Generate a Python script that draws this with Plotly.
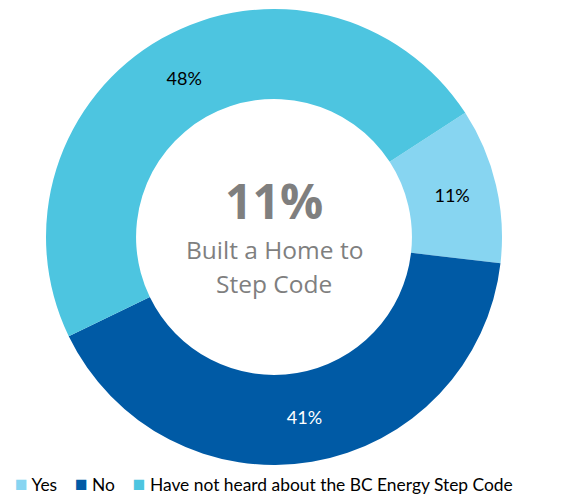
import plotly.graph_objects as go

labels = ["Yes", "No", "Have not heard about the BC Energy Step Code"]
values = [11, 41, 48]
colors = ["#87D5F1", "#005AA5", "#4DC5E0"]
text_colors = ["#000000", "#FFFFFF", "#000000"]

center_value = "11%"
center_lines = ["Built a Home to", "Step Code"]

W, H = 587, 495
cx, cy, R = 274, 237, 228   # donut centre / radius in px from the top-left

fig = go.Figure()
fig.add_trace(go.Pie(
    labels=labels,
    values=values,
    hole=0.605,
    sort=False,
    direction="clockwise",
    rotation=57,
    marker=dict(colors=colors, line=dict(width=0)),
    texttemplate="%{percent:.0%}",
    textposition="inside",
    insidetextorientation="horizontal",
    insidetextfont=dict(color=text_colors, size=18, family="Lato, sans-serif"),
    domain=dict(x=[(cx - R) / W, (cx + R) / W],
                y=[(H - cy - R) / H, (H - cy + R) / H]),
    showlegend=False,
))

# centre text
fig.add_annotation(x=cx / W, y=(H - 201) / H, xref="paper", yref="paper",
                   text="<b>" + center_value + "</b>", showarrow=False,
                   font=dict(size=48, color="#7F7F7F", family="Open Sans, sans-serif"))
for line, ypx in zip(center_lines, [249, 284]):
    fig.add_annotation(x=cx / W, y=(H - ypx) / H, xref="paper", yref="paper",
                       text=line, showarrow=False,
                       font=dict(size=24.5, color="#7F7F7F", family="Open Sans, sans-serif"))

# legend drawn as a single line of text with coloured squares
sq = '<span style="color:{};font-size:21px">■</span>'
legend_text = "&nbsp;&nbsp;&nbsp;&nbsp;".join(
    sq.format(c) + "&nbsp;" + lab for lab, c in zip(labels, colors))
fig.add_annotation(x=13 / W, y=(H - 482) / H, xref="paper", yref="paper",
                   xanchor="left", yanchor="middle", text=legend_text, showarrow=False,
                   font=dict(size=17.4, color="#000000", family="Lato, sans-serif"))

fig.update_layout(
    width=W, height=H,
    margin=dict(l=0, r=0, t=0, b=0),
    paper_bgcolor="white",
    showlegend=False,
)

fig.write_html("out.html", config={"displayModeBar": False},
               post_script="document.body.style.margin='0';")
